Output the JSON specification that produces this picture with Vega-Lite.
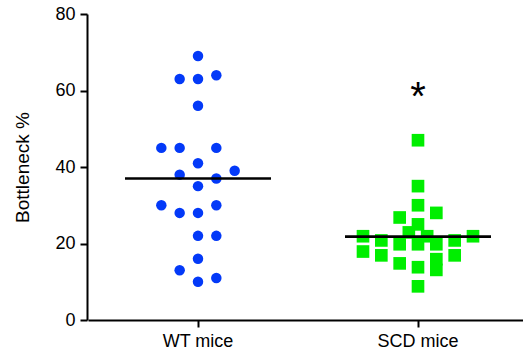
{
  "$schema": "https://vega.github.io/schema/vega-lite/v6.json",
  "width": 436,
  "height": 306,
  "autosize": {"type": "none"},
  "padding": {"left": 87, "top": 14, "right": 0, "bottom": 36},
  "background": "white",
  "config": {
    "view": {"stroke": null},
    "font": "Liberation Sans",
    "axis": {
      "domainColor": "black",
      "domainWidth": 2,
      "tickColor": "black",
      "tickWidth": 2,
      "tickSize": 7,
      "labelColor": "black",
      "labelFontSize": 18,
      "titleColor": "black",
      "titleFontSize": 19,
      "titleFontWeight": "normal",
      "grid": false
    }
  },
  "datasets": {
    "points": [
      {"group": "WT mice", "col": 0, "value": 69},
      {"group": "WT mice", "col": -1, "value": 63},
      {"group": "WT mice", "col": 0, "value": 63},
      {"group": "WT mice", "col": 1, "value": 64},
      {"group": "WT mice", "col": 0, "value": 56},
      {"group": "WT mice", "col": -2, "value": 45},
      {"group": "WT mice", "col": -1, "value": 45},
      {"group": "WT mice", "col": 1, "value": 45},
      {"group": "WT mice", "col": 0, "value": 41},
      {"group": "WT mice", "col": -1, "value": 38},
      {"group": "WT mice", "col": 2, "value": 39},
      {"group": "WT mice", "col": 1, "value": 37},
      {"group": "WT mice", "col": 0, "value": 35},
      {"group": "WT mice", "col": -2, "value": 30},
      {"group": "WT mice", "col": -1, "value": 28},
      {"group": "WT mice", "col": 0, "value": 28},
      {"group": "WT mice", "col": 1, "value": 30},
      {"group": "WT mice", "col": 0, "value": 22},
      {"group": "WT mice", "col": 1, "value": 22},
      {"group": "WT mice", "col": 0, "value": 16},
      {"group": "WT mice", "col": -1, "value": 13},
      {"group": "WT mice", "col": 0, "value": 10},
      {"group": "WT mice", "col": 1, "value": 11},
      {"group": "SCD mice", "col": 0, "value": 47},
      {"group": "SCD mice", "col": 0, "value": 35},
      {"group": "SCD mice", "col": 0, "value": 30},
      {"group": "SCD mice", "col": -1, "value": 26.8},
      {"group": "SCD mice", "col": 1, "value": 28},
      {"group": "SCD mice", "col": 0, "value": 25},
      {"group": "SCD mice", "col": -0.5, "value": 22.9},
      {"group": "SCD mice", "col": 0.5, "value": 21.9},
      {"group": "SCD mice", "col": -3, "value": 21.9},
      {"group": "SCD mice", "col": -2, "value": 20.8},
      {"group": "SCD mice", "col": -1, "value": 19.8},
      {"group": "SCD mice", "col": 0, "value": 19.8},
      {"group": "SCD mice", "col": 1, "value": 19.8},
      {"group": "SCD mice", "col": 2, "value": 20.8},
      {"group": "SCD mice", "col": 3, "value": 21.9},
      {"group": "SCD mice", "col": -3, "value": 17.9},
      {"group": "SCD mice", "col": -2, "value": 16.9},
      {"group": "SCD mice", "col": 2, "value": 16.9},
      {"group": "SCD mice", "col": -1, "value": 14.8},
      {"group": "SCD mice", "col": 0, "value": 13.8},
      {"group": "SCD mice", "col": 1, "value": 15.9},
      {"group": "SCD mice", "col": 1, "value": 13.1},
      {"group": "SCD mice", "col": 0, "value": 8.8}
    ],
    "means": [
      {"group": "WT mice", "value": 37.0},
      {"group": "SCD mice", "value": 21.8}
    ],
    "notes": [
      {"group": "SCD mice", "value": 55, "label": "*"}
    ]
  },
  "encoding": {
    "x": {
      "field": "group",
      "type": "nominal",
      "sort": ["WT mice", "SCD mice"],
      "scale": {"range": [1, 441], "paddingInner": 0, "paddingOuter": 0},
      "axis": {"title": null, "labelAngle": 0, "labelPadding": 5}
    },
    "y": {
      "field": "value",
      "type": "quantitative",
      "scale": {"domain": [0, 80], "nice": false, "zero": true},
      "axis": {"title": "Bottleneck %", "values": [0, 20, 40, 60, 80], "labelPadding": 5, "titlePadding": 22}
    }
  },
  "layer": [
    {
      "data": {"name": "points"},
      "transform": [{"filter": "datum.group === 'WT mice'"}],
      "mark": {"type": "point", "shape": "circle", "filled": true, "size": 110, "opacity": 1, "color": "#0339f8"},
      "encoding": {
        "xOffset": {"field": "col", "type": "quantitative", "scale": {"domain": [-6, 6]}}
      }
    },
    {
      "data": {"name": "points"},
      "transform": [{"filter": "datum.group === 'SCD mice'"}],
      "mark": {"type": "point", "shape": "square", "filled": true, "size": 160, "opacity": 1, "color": "#00ee00"},
      "encoding": {
        "xOffset": {"field": "col", "type": "quantitative", "scale": {"domain": [-6, 6]}}
      }
    },
    {
      "data": {"name": "means"},
      "mark": {"type": "tick", "orient": "horizontal", "size": 146, "thickness": 2.6, "color": "black", "opacity": 1}
    },
    {
      "data": {"name": "notes"},
      "mark": {"type": "text", "fontSize": 40, "baseline": "alphabetic", "align": "center", "color": "black"},
      "encoding": {"text": {"field": "label"}}
    }
  ]
}
